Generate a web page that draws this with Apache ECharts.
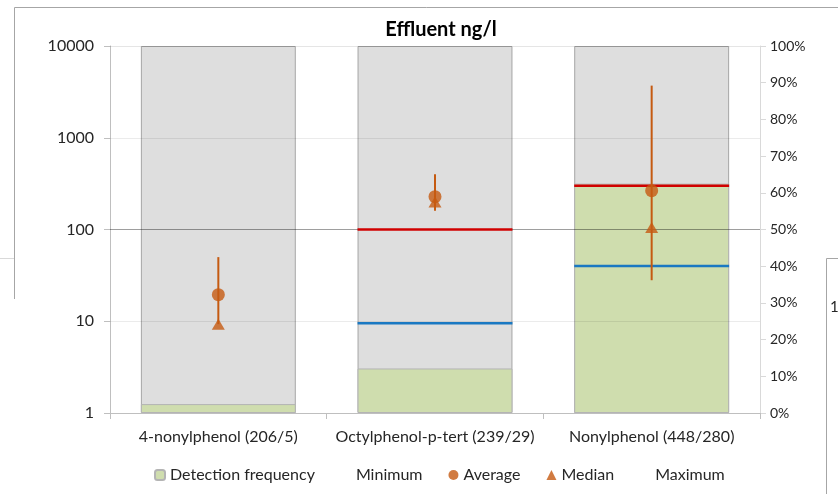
<!DOCTYPE html>
<html><head><meta charset="utf-8">
<script src="https://cdn.jsdelivr.net/npm/echarts@6/dist/echarts.min.js"></script>
<style>html,body{margin:0;padding:0;background:#fff}#c{width:838px;height:494px}</style>
</head><body><div id="c"></div>
<script>
var categories = ['4-nonylphenol (206/5)', 'Octylphenol-p-tert (239/29)', 'Nonylphenol (448/280)'];
var detectionFrequency = [0.0243, 0.1213, 0.625];
var minimum = [9.3, 160, 28];
var average = [19.5, 228, 265];
var median = [9.3, 200, 105];
var maximum = [50, 400, 3700];
var eqsRed = [null, 100, 300];
var eqsBlue = [null, 9.5, 40];
var leftTicks = [1, 10, 100, 1000, 10000];
var FONT = 'Lato';

var chart = echarts.init(document.getElementById('c'));
function hLine(color) {
  return function (params, api) {
    var v = api.value(1);
    if (v == null || isNaN(v)) return;
    var p = api.coord([api.value(0), v]);
    var w = api.size([1, 0])[0] * 0.715;
    return { type: 'line', shape: { x1: p[0] - w / 2, y1: p[1], x2: p[0] + w / 2, y2: p[1] },
      style: { stroke: color, lineWidth: 2.5 } };
  };
}
var orange = '#c55a11';
chart.setOption({
  animation: false,
  textStyle: { fontFamily: FONT },
  title: { text: 'Effluent ng/l', left: 436, textAlign: 'center', top: 15,
    textStyle: { fontFamily: FONT, fontWeight: 'bold', fontSize: 20, color: '#000' } },
  grid: { left: 110, right: 78, top: 46, bottom: 81 },
  legend: {
    bottom: 6, left: 149, itemWidth: 10, itemHeight: 10, itemGap: 26,
    textStyle: { fontFamily: FONT, fontSize: 16, color: '#262626' },
    data: ['Detection frequency', 'Minimum', 'Average', 'Median', 'Maximum']
  },
  xAxis: {
    type: 'category', data: categories,
    axisLine: { lineStyle: { color: '#bfbfbf' } },
    axisTick: { show: true, length: 6, lineStyle: { color: '#bfbfbf' } },
    axisLabel: { fontFamily: FONT, fontSize: 16, color: '#262626', margin: 16, interval: 0 }
  },
  yAxis: [
    { type: 'log', logBase: 10, min: 1, max: 10000,
      axisLine: { show: true, lineStyle: { color: '#bfbfbf' } },
      axisTick: { show: true, inside: false, length: 6, lineStyle: { color: '#bfbfbf' } },
      splitLine: { show: false }, minorTick: { show: false },
      axisLabel: { fontFamily: FONT, fontSize: 16, color: '#262626', margin: 16,
        formatter: function (v) { return leftTicks.indexOf(Math.round(v)) >= 0 ? String(Math.round(v)) : ''; } } },
    { type: 'value', min: 0, max: 1, interval: 0.1, position: 'right',
      axisLine: { show: true, lineStyle: { color: '#d9d9d9' } },
      axisTick: { show: true, length: 6, lineStyle: { color: '#d9d9d9' } },
      splitLine: { show: false },
      axisLabel: { fontFamily: FONT, fontSize: 14, color: '#262626', margin: 10,
        formatter: function (v) { return Math.round(v * 100) + '%'; } } }
  ],
  series: [
    { name: 'Total', type: 'bar', yAxisIndex: 1, data: [1, 1, 1], barWidth: '71.5%', barGap: '-100%',
      itemStyle: { color: '#dedede', borderColor: '#a6a6a6', borderWidth: 1 }, silent: true, z: 1 },
    { name: 'Detection frequency', type: 'bar', yAxisIndex: 1, data: detectionFrequency, barWidth: '71.5%',
      itemStyle: { color: '#cfddae', borderColor: '#b4b4b4', borderWidth: 1 }, z: 2,
      markLine: { silent: true, symbol: 'none', label: { show: false }, z: 3,
        data: [
          { yAxis: 0.25, lineStyle: { color: 'rgba(0,0,0,0.08)', width: 1, type: 'solid' } },
          { yAxis: 0.5, lineStyle: { color: 'rgba(0,0,0,0.38)', width: 1, type: 'solid' } },
          { yAxis: 0.75, lineStyle: { color: 'rgba(0,0,0,0.08)', width: 1, type: 'solid' } },
          { yAxis: 1, lineStyle: { color: 'rgba(0,0,0,0.1)', width: 1, type: 'solid' } }
        ] } },
    { name: 'EQS red', type: 'custom', yAxisIndex: 0, z: 5,
      data: eqsRed.map(function (v, i) { return [i, v]; }), renderItem: hLine('#d00000') },
    { name: 'EQS blue', type: 'custom', yAxisIndex: 0, z: 5,
      data: eqsBlue.map(function (v, i) { return [i, v]; }), renderItem: hLine('#1a78c2') },
    { name: 'Range', type: 'custom', yAxisIndex: 0, z: 6,
      data: minimum.map(function (v, i) { return [i, v, maximum[i]]; }),
      renderItem: function (params, api) {
        var a = api.coord([api.value(0), api.value(1)]);
        var b = api.coord([api.value(0), api.value(2)]);
        return { type: 'line', shape: { x1: a[0], y1: a[1], x2: b[0], y2: b[1] },
          style: { stroke: orange, lineWidth: 2 } };
      } },
    { name: 'Minimum', type: 'scatter', yAxisIndex: 0, data: minimum, symbolSize: 0,
      itemStyle: { color: 'rgba(0,0,0,0)' }, z: 7 },
    { name: 'Average', type: 'scatter', yAxisIndex: 0, data: average, symbol: 'circle', symbolSize: 13,
      itemStyle: { color: orange }, z: 8 },
    { name: 'Median', type: 'scatter', yAxisIndex: 0, data: median, symbol: 'triangle', symbolSize: [13, 11],
      itemStyle: { color: orange }, z: 8 },
    { name: 'Maximum', type: 'scatter', yAxisIndex: 0, data: maximum, symbolSize: 0,
      itemStyle: { color: 'rgba(0,0,0,0)' }, z: 7 }
  ],
  graphic: [
    { type: 'line', shape: { x1: 14.5, y1: 7.5, x2: 838, y2: 7.5 }, style: { stroke: '#a6a6a6', lineWidth: 1 } },
    { type: 'line', shape: { x1: 14.5, y1: 7.5, x2: 14.5, y2: 299 }, style: { stroke: '#a6a6a6', lineWidth: 1 } },
    { type: 'line', shape: { x1: 0, y1: 258.5, x2: 14, y2: 258.5 }, style: { stroke: '#d9d9d9', lineWidth: 1 } },
    { type: 'line', shape: { x1: 826.5, y1: 258.5, x2: 838, y2: 258.5 }, style: { stroke: '#a6a6a6', lineWidth: 1 } },
    { type: 'line', shape: { x1: 826.5, y1: 258.5, x2: 826.5, y2: 494 }, style: { stroke: '#a6a6a6', lineWidth: 1 } },
    { type: 'text', left: 830, top: 300, style: { text: '1', fontFamily: FONT, fontSize: 15, fill: '#262626' } }
  ]
});
</script></body></html>
